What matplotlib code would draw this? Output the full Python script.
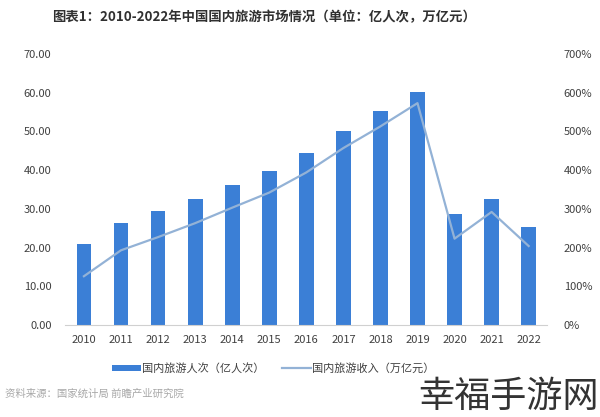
import numpy as np
import matplotlib
matplotlib.use("Agg")
import matplotlib.pyplot as plt
from matplotlib.ticker import PercentFormatter, FormatStrFormatter

plt.rcParams['font.family'] = ['Noto Sans CJK SC', 'DejaVu Sans']

# 数据
years = ['2010', '2011', '2012', '2013', '2014', '2015', '2016',
         '2017', '2018', '2019', '2020', '2021', '2022']
renci = [21.03, 26.41, 29.57, 32.62, 36.11, 39.90, 44.35,
         50.01, 55.39, 60.06, 28.79, 32.46, 25.30]
shouru = [1.26, 1.93, 2.27, 2.63, 3.03, 3.42, 3.94,
          4.57, 5.13, 5.73, 2.23, 2.92, 2.04]

kolor_slupki = '#3b7fd6'
kolor_linia = '#93b2d6'
szary = '#404040'

fig = plt.figure(figsize=(6, 4.17), dpi=100)
ax = fig.add_axes([0.109, 0.2206, 0.803, 0.650])
ax2 = ax.twinx()

x = np.arange(len(years))
b = ax.bar(x, renci, width=0.4, color=kolor_slupki, zorder=2)
l, = ax2.plot(x, shouru, color=kolor_linia, lw=1.6, zorder=3)

ax.set_xlim(-0.5, len(years) - 0.5)
ax.set_ylim(0, 70)
ax.set_yticks(np.arange(0, 71, 10))
ax.yaxis.set_major_formatter(FormatStrFormatter('%.2f'))
ax2.set_ylim(0, 7)
ax2.set_yticks(np.arange(0, 7.1, 1))
ax2.yaxis.set_major_formatter(PercentFormatter(xmax=1, decimals=0))

ax.set_xticks(x)
ax.set_xticklabels(years)

for a in (ax, ax2):
    for s in a.spines.values():
        s.set_visible(False)
    a.tick_params(length=0, labelsize=8, colors=szary)
ax.spines['bottom'].set_visible(True)
ax.spines['bottom'].set_color('#d0d0d0')
ax.tick_params(axis='y', pad=10)
ax.tick_params(axis='x', pad=7)
ax2.tick_params(axis='y', pad=12)

# ustawienie linii nad slupkami
ax2.set_zorder(ax.get_zorder() + 1)
ax2.patch.set_visible(False)

fig.text(0.087, 0.958, '图表1：2010-2022年中国国内旅游市场情况（单位：亿人次，万亿元）',
         fontsize=9.6, fontweight='bold', color='#303030', va='center')

fig.legend([b, l], ['国内旅游人次（亿人次）', '国内旅游收入（万亿元）'],
           loc='center', bbox_to_anchor=(0.455, 0.117), ncol=2, frameon=False,
           fontsize=8, handlelength=2.6, handleheight=0.5, columnspacing=1.6,
           handletextpad=0.1, labelcolor=szary)

fig.text(0.008, 0.057, '资料来源：国家统计局 前瞻产业研究院', fontsize=7.5,
         color='#a8a8a8', va='center')
fig.text(0.998, 0.047, '幸福手游网', fontsize=26, color='#333333',
         ha='right', va='center')

fig.savefig('out.png', dpi=100)
